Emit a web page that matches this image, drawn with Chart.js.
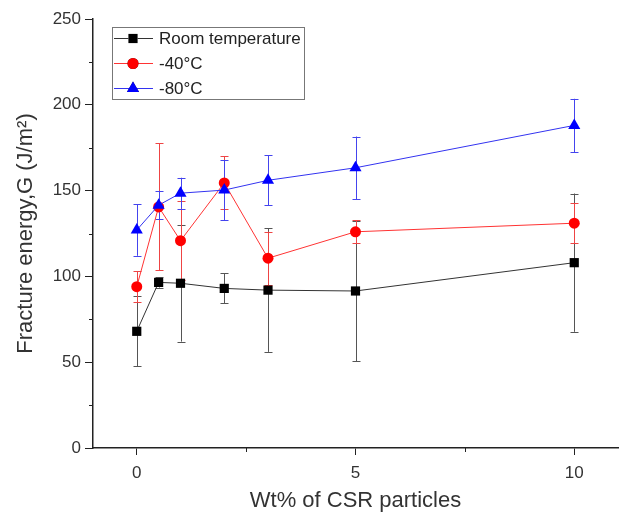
<!DOCTYPE html>
<html>
<head>
<meta charset="utf-8">
<script src="https://cdn.jsdelivr.net/npm/chart.js@4.4.1/dist/chart.umd.min.js"></script>
<style>
  html, body { margin: 0; padding: 0; background: #fff; }
  #wrap { width: 625px; height: 518px; position: relative; }
</style>
</head>
<body>
<div id="wrap"><canvas id="chartFE"></canvas></div>
<script>
// dados
const wtPercent = [0, 0.5, 1, 2, 3, 5, 10];

const roomTemp    = [68, 96.5, 96, 93, 92, 91.5, 108];
const roomTempErr = [20.5, 3, 34, 8.7, 36, 41, 40.3];

const minus40    = [94, 140.5, 120.8, 154.5, 110.6, 126, 131];
const minus40Err = [9, 37, 23, 15.5, 15.5, 6.8, 11.6];

const minus80    = [127, 141.5, 148.5, 150.3, 156, 163.3, 188];
const minus80Err = [15, 8.3, 9, 17.5, 14.5, 18.2, 15.5];

const seriesNames = ['Room temperature', '-40°C', '-80°C'];

const xTicks = [0, 2.5, 5, 7.5, 10];
const xLabels = [0, 5, 10];
const yTicks = [0, 25, 50, 75, 100, 125, 150, 175, 200, 225, 250];
const yLabels = [0, 50, 100, 150, 200, 250];

const FONT = "'Liberation Sans', Arial, sans-serif";
const AXIS_COLOR = '#222';

const toPoints = (ys) => ys.map((y, i) => ({ x: wtPercent[i], y: y }));

// Barras de erro desenhadas antes dos pontos
const errorBars = {
    id: 'errorBars',
    beforeDatasetsDraw(chart) {
        const ctx = chart.ctx;
        const xs = chart.scales.x;
        const ys = chart.scales.y;
        chart.data.datasets.forEach((ds, di) => {
            const meta = chart.getDatasetMeta(di);
            if (meta.hidden) return;
            ctx.save();
            ctx.strokeStyle = ds.errColor;
            ctx.lineWidth = 1;
            ds.data.forEach((p, i) => {
                const e = ds.errors[i];
                const px = Math.round(xs.getPixelForValue(p.x)) + 0.5;
                const top = ys.getPixelForValue(p.y + e);
                const bot = ys.getPixelForValue(p.y - e);
                ctx.beginPath();
                ctx.moveTo(px, top);
                ctx.lineTo(px, bot);
                ctx.moveTo(px - 4, Math.round(top) + 0.5);
                ctx.lineTo(px + 4, Math.round(top) + 0.5);
                ctx.moveTo(px - 4, Math.round(bot) + 0.5);
                ctx.lineTo(px + 4, Math.round(bot) + 0.5);
                ctx.stroke();
            });
            ctx.restore();
        });
    }
};

// Ticks menores (mais curtos)
const minorTicks = {
    id: 'minorTicks',
    afterDraw(chart) {
        const ctx = chart.ctx;
        const xs = chart.scales.x;
        const ys = chart.scales.y;
        const area = chart.chartArea;
        ctx.save();
        ctx.strokeStyle = AXIS_COLOR;
        ctx.lineWidth = 1;
        ctx.beginPath();
        yTicks.filter(v => !yLabels.includes(v)).forEach(v => {
            const py = Math.round(ys.getPixelForValue(v)) + 0.5;
            ctx.moveTo(area.left - 4, py);
            ctx.lineTo(area.left, py);
        });
        xTicks.filter(v => !xLabels.includes(v)).forEach(v => {
            const px = Math.round(xs.getPixelForValue(v)) + 0.5;
            ctx.moveTo(px, area.bottom);
            ctx.lineTo(px, area.bottom + 4);
        });
        ctx.stroke();
        ctx.restore();
    }
};

// Legenda em caixa dentro da área do gráfico
const boxLegend = {
    id: 'boxLegend',
    afterDraw(chart) {
        const ctx = chart.ctx;
        const left = 112, top = 27, w = 192, h = 72;
        ctx.save();
        ctx.fillStyle = '#fff';
        ctx.fillRect(left, top, w, h);
        ctx.strokeStyle = '#777';
        ctx.lineWidth = 1;
        ctx.strokeRect(left + 0.5, top + 0.5, w, h);
        chart.data.datasets.forEach((ds, i) => {
            const cy = top + 11.5 + i * 25;
            ctx.strokeStyle = ds.borderColor;
            ctx.lineWidth = 1;
            ctx.beginPath();
            ctx.moveTo(left + 2, cy);
            ctx.lineTo(left + 41, cy);
            ctx.stroke();
            Chart.helpers.drawPoint(ctx, {
                pointStyle: ds.pointStyle,
                radius: ds.pointRadius,
                borderWidth: 0
            }, left + 21, cy);
            ctx.fillStyle = ds.pointBackgroundColor;
            ctx.fill();
            ctx.fillStyle = '#222';
            ctx.font = '17px ' + FONT;
            ctx.textBaseline = 'middle';
            ctx.textAlign = 'left';
            ctx.fillText(seriesNames[i], left + 47, cy + 1);
        });
        ctx.restore();
    }
};

const ctx = document.getElementById('chartFE').getContext('2d');

new Chart(ctx, {
    type: 'line',
    data: {
        datasets: [
            {
                label: seriesNames[0],
                data: toPoints(roomTemp),
                errors: roomTempErr,
                errColor: '#555',
                borderColor: '#333',
                borderWidth: 1,
                pointStyle: 'rect',
                pointRadius: 6.5,
                pointBackgroundColor: '#000',
                pointBorderWidth: 0,
                order: 1
            },
            {
                label: seriesNames[1],
                data: toPoints(minus40),
                errors: minus40Err,
                errColor: '#ee4444',
                borderColor: '#ff3333',
                borderWidth: 1,
                pointStyle: 'circle',
                pointRadius: 5.5,
                pointBackgroundColor: '#ff0000',
                pointBorderWidth: 0,
                order: 3
            },
            {
                label: seriesNames[2],
                data: toPoints(minus80),
                errors: minus80Err,
                errColor: '#4444ee',
                borderColor: '#3333f0',
                borderWidth: 1,
                pointStyle: 'triangle',
                pointRadius: 7,
                pointBackgroundColor: '#0000ff',
                pointBorderWidth: 0,
                order: 2
            }
        ]
    },
    options: {
        responsive: true,
        maintainAspectRatio: false,
        animation: false,
        layout: { padding: { top: 19, right: 3, left: 0, bottom: 0 } },
        plugins: {
            legend: { display: false },
            tooltip: { enabled: false }
        },
        scales: {
            x: {
                type: 'linear',
                min: -1,
                max: 11,
                afterBuildTicks: (axis) => { axis.ticks = xTicks.map(v => ({ value: v })); },
                afterFit: (axis) => { axis.height = 70; },
                border: { display: true, color: AXIS_COLOR, width: 1.5 },
                grid: {
                    drawOnChartArea: false,
                    drawTicks: true,
                    tickLength: 7,
                    tickColor: (c) => xLabels.includes(c.tick.value) ? AXIS_COLOR : 'rgba(0,0,0,0)'
                },
                ticks: {
                    autoSkip: false,
                    maxRotation: 0,
                    padding: 8,
                    color: '#333',
                    font: { family: FONT, size: 17 },
                    callback: (v) => xLabels.includes(v) ? String(v) : ''
                },
                title: {
                    display: true,
                    text: 'Wt% of CSR particles',
                    color: '#333',
                    font: { family: FONT, size: 22 },
                    padding: { top: 4, bottom: 4 }
                }
            },
            y: {
                min: 0,
                max: 250,
                afterBuildTicks: (axis) => { axis.ticks = yTicks.map(v => ({ value: v })); },
                afterFit: (axis) => { axis.width = 93; },
                border: { display: true, color: AXIS_COLOR, width: 1.5 },
                grid: {
                    drawOnChartArea: false,
                    drawTicks: true,
                    tickLength: 8,
                    tickColor: (c) => yLabels.includes(c.tick.value) ? AXIS_COLOR : 'rgba(0,0,0,0)'
                },
                ticks: {
                    autoSkip: false,
                    padding: 4,
                    color: '#333',
                    font: { family: FONT, size: 17 },
                    callback: (v) => yLabels.includes(v) ? String(v) : ''
                },
                title: {
                    display: true,
                    text: 'Fracture energy,G (J/m²)',
                    color: '#333',
                    font: { family: FONT, size: 22 },
                    padding: { top: 13, bottom: 0 }
                }
            }
        }
    },
    plugins: [errorBars, minorTicks, boxLegend]
});
</script>
</body>
</html>
